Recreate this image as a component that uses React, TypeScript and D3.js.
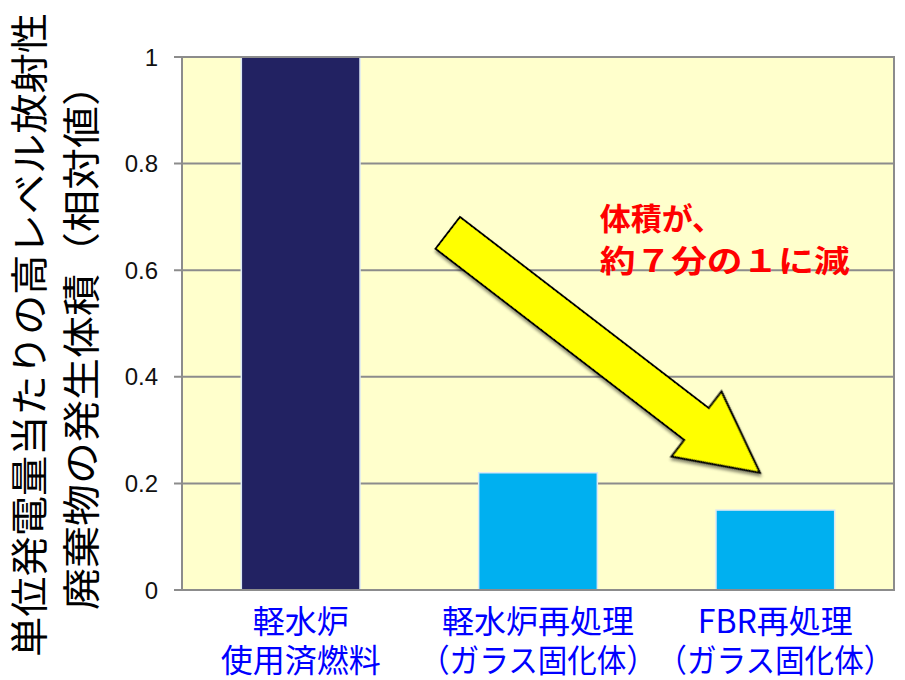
import * as d3 from 'd3';

// chart data
const categories = ['lwr', 'lwrRepro', 'fbrRepro'];
const labelLine1 = ['軽水炉', '軽水炉再処理', 'FBR再処理'];
const labelLine2 = ['使用済燃料', '（ガラス固化体）', '（ガラス固化体）'];
const values = [1.0, 0.22, 0.15];
const barColors = ['#222262', '#00b0f0', '#00b0f0'];
const yTicks = [0, 0.2, 0.4, 0.6, 0.8, 1];
const yTitleLines = ['単位発電量当たりの高レベル放射性', '廃棄物の発生体積（相対値）'];
const noteLines = ['体積が、', '約７分の１に減'];

const width = 905;
const height = 680;
const margin = { top: 57, right: 11, bottom: 90, left: 182 };
const jpFont = '"Noto Sans CJK JP", "Noto Sans", sans-serif';

export default function App() {
  const plotW = width - margin.left - margin.right;
  const plotH = height - margin.top - margin.bottom;

  const x = d3
    .scaleBand<string>()
    .domain(categories)
    .range([margin.left, margin.left + plotW])
    .paddingInner(0.5)
    .paddingOuter(0.25);

  // continuous position across the categories, for the annotation
  const xPos = d3.scaleLinear().domain([0, 3]).range([margin.left, margin.left + plotW]);

  const y = d3
    .scaleLinear()
    .domain([0, 1])
    .range([margin.top + plotH, margin.top]);

  // arrow from tail centre to tip
  const tail = [xPos(1.12), y(0.67)];
  const tip = [xPos(2.435), y(0.22)];
  const dx = tip[0] - tail[0];
  const dy = tip[1] - tail[1];
  const len = Math.hypot(dx, dy);
  const angle = (Math.atan2(dy, dx) * 180) / Math.PI;
  const shaftHalf = 20;
  const headHalf = 41;
  const headLen = 80;
  const arrowPts: [number, number][] = [
    [0, -shaftHalf],
    [len - headLen, -shaftHalf],
    [len - headLen, -headHalf],
    [len, 0],
    [len - headLen, headHalf],
    [len - headLen, shaftHalf],
    [0, shaftHalf],
  ];
  const arrowPath = d3.line()(arrowPts) + 'Z';

  return (
    <svg
      width={width}
      height={height}
      style={{ position: 'absolute', left: 0, top: 0, background: '#fff' }}
    >
      <defs>
        <filter id="shadow" x="-20%" y="-20%" width="140%" height="140%">
          <feDropShadow dx="2" dy="2" stdDeviation="1.5" floodColor="#000" floodOpacity="0.45" />
        </filter>
      </defs>

      {/* plot background */}
      <rect x={margin.left} y={margin.top} width={plotW} height={plotH} fill="#ffffcc" />

      {/* gridlines */}
      {yTicks.map((t) => (
        <line
          key={`g${t}`}
          x1={margin.left - 8}
          x2={margin.left + plotW}
          y1={y(t)}
          y2={y(t)}
          stroke="#8c8c8c"
          strokeWidth={2}
        />
      ))}

      {/* bars */}
      {categories.map((c, i) => (
        <rect
          key={c}
          x={x(c)}
          y={y(values[i])}
          width={x.bandwidth()}
          height={y(0) - y(values[i])}
          fill={barColors[i]}
          stroke="#dce8f4"
          strokeWidth={1.5}
        />
      ))}

      {/* frame */}
      <rect
        x={margin.left}
        y={margin.top}
        width={plotW}
        height={plotH}
        fill="none"
        stroke="#8c8c8c"
        strokeWidth={2}
      />

      {/* y tick labels */}
      {yTicks.map((t) => (
        <text
          key={`t${t}`}
          x={margin.left - 24}
          y={y(t)}
          dy="0.36em"
          textAnchor="end"
          fontFamily='"Liberation Sans", Arial, sans-serif'
          fontSize={24}
          fill="#111"
        >
          {String(t)}
        </text>
      ))}

      {/* category labels */}
      {categories.map((c, i) => {
        const cx = (x(c) ?? 0) + x.bandwidth() / 2;
        const long2 = labelLine2[i].length > 6;
        return (
          <g key={`l${c}`} fill="#0000ff" fontFamily={jpFont} fontSize={32}>
            <text x={cx} y={y(0) + 43} textAnchor="middle">
              {labelLine1[i]}
            </text>
            <text
              x={cx}
              y={y(0) + 82}
              textAnchor="middle"
              textLength={long2 ? 236 : undefined}
              lengthAdjust="spacingAndGlyphs"
            >
              {labelLine2[i]}
            </text>
          </g>
        );
      })}

      {/* y axis title */}
      <g fontFamily={jpFont} fontSize={38} fill="#000">
        <text
          transform={`translate(30,335) rotate(-90)`}
          textAnchor="middle"
          dy="0.35em"
          textLength={644}
          lengthAdjust="spacingAndGlyphs"
        >
          {yTitleLines[0]}
        </text>
        <text
          transform={`translate(82,337) rotate(-90)`}
          textAnchor="middle"
          dy="0.35em"
          textLength={546}
          lengthAdjust="spacingAndGlyphs"
        >
          {yTitleLines[1]}
        </text>
      </g>

      {/* arrow */}
      <path
        d={arrowPath}
        transform={`translate(${tail[0]},${tail[1]}) rotate(${angle})`}
        fill="#ffff00"
        stroke="#000"
        strokeWidth={2}
        strokeLinejoin="miter"
        filter="url(#shadow)"
      />

      {/* annotation */}
      <g fontFamily={jpFont} fontSize={31} fontWeight="bold" fill="#ff0000">
        <text x={xPos(1.76)} y={y(0.675)}>
          {noteLines[0]}
        </text>
        <text x={xPos(1.76)} y={y(0.597)} textLength={250} lengthAdjust="spacingAndGlyphs">
          {noteLines[1]}
        </text>
      </g>
    </svg>
  );
}
